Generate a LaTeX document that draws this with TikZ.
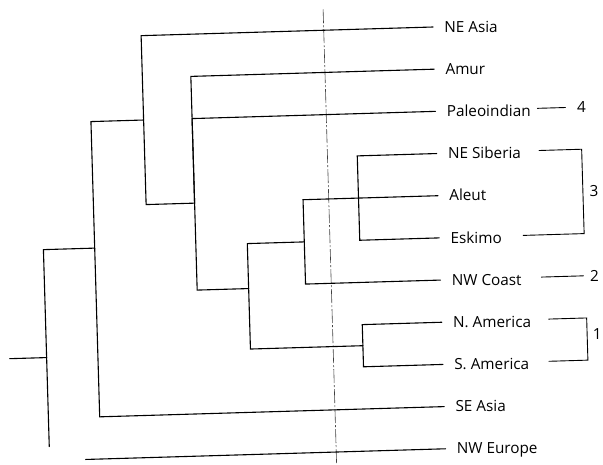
\documentclass[tikz,border=0pt]{standalone}
\usepackage{fontspec}
\setmainfont{Open Sans}
\begin{document}
\begin{tikzpicture}[x=1pt,y=-1pt,
  edge/.style={draw=black, line width=1.1pt, line cap=round},
  guide/.style={draw=black!75, line width=0.6pt, dash pattern=on 14pt off 2pt on 2pt off 2pt},
  leaf/.style={anchor=base west, inner sep=0pt, font=\fontsize{15.3}{18}\selectfont},
  grp/.style={anchor=base, inner sep=0pt, font=\fontsize{15.3}{18}\selectfont}]
\useasboundingbox (0,0) rectangle (603,465);
\fill[white] (0,0) rectangle (603,465);
\clip (0,0) rectangle (603,465);
\begin{scope}[rotate around={1.7:(301,232)}]
% leaf line ends
\coordinate (l0) at (439,31);
\coordinate (l1) at (439,73.2);
\coordinate (l2) at (439,115.4);
\coordinate (l3) at (439,157.6);
\coordinate (l4) at (439,199.8);
\coordinate (l5) at (439,242);
\coordinate (l6) at (439,284.2);
\coordinate (l7) at (439,326.4);
\coordinate (l8) at (439,368.6);
\coordinate (l9) at (439,410.8);
\coordinate (l10) at (439,453);
% labels
\node[leaf] (n0) at (450,36.5) {NE Asia};
\node[leaf] (n1) at (450,78.7) {Amur};
\node[leaf] (n2) at (450,120.9) {Paleoindian};
\node[leaf] (n3) at (450,163.1) {NE Siberia};
\node[leaf] (n4) at (450,205.3) {Aleut};
\node[leaf] (n5) at (450,247.5) {Eskimo};
\node[leaf] (n6) at (450,289.7) {NW Coast};
\node[leaf] (n7) at (450,331.9) {N. America};
\node[leaf] (n8) at (450,374.1) {S. America};
\node[leaf] (n9) at (450,416.3) {SE Asia};
\node[leaf] (n10) at (450,458.5) {NW Europe};
% internal nodes
\coordinate (root) at (6,350);
\coordinate (G) at (43,350);
\coordinate (Gb) at (43,439);
\coordinate (F) at (94.3,242);
\coordinate (A) at (147,115.4);
\coordinate (B) at (195.5,200);
\coordinate (C) at (247,287);
\coordinate (D) at (304,242);
\coordinate (D2) at (359.5,199.8);
\coordinate (E) at (359.5,347.5);
\coordinate (W) at (79,453);
% guide line
\draw[guide] (329.7,10) -- (329.7,490);
% tree
\draw[edge] (root) -- (G);
\draw[edge] (G) |- (F);
\draw[edge] (G) -- (Gb);
\draw[edge] (F) |- (A);
\draw[edge] (F) |- (l9);
\draw[edge] (A) |- (l0);
\draw[edge] (A) |- (B);
\draw[edge] (B) |- (l1);
\draw[edge] (B) |- (l2);
\draw[edge] (B) |- (C);
\draw[edge] (C) |- (D);
\draw[edge] (C) |- (E);
\draw[edge] (D) |- (l4);
\draw[edge] (D) |- (l6);
\draw[edge] (D2) |- (l3);
\draw[edge] (D2) |- (l5);
\draw[edge] (E) |- (l7);
\draw[edge] (E) |- (l8);
\draw[edge] (W) -- (l10);
% right-hand groups
\coordinate (p1) at (541,115.4);
\coordinate (p2) at (569,115.4);
\draw[edge, line width=0.9pt] (p1) -- (p2);
\node[grp] (g4) at (585,120.9) {4};
\coordinate (s1) at (541.5,157.6);
\coordinate (s2) at (584,157.6);
\coordinate (s3) at (584,242);
\coordinate (s4) at (523,242);
\draw[edge, line width=0.9pt] (s1) -- (s2) -- (s3) -- (s4);
\node[grp] (g3) at (595,205.3) {3};
\coordinate (c1) at (540,284.2);
\coordinate (c2) at (582,284.2);
\draw[edge, line width=0.9pt] (c1) -- (c2);
\node[grp] (g2) at (593,289.7) {2};
\coordinate (a1) at (546,326.4);
\coordinate (a2) at (584,326.4);
\coordinate (a3) at (584,368.6);
\coordinate (a4) at (545,368.6);
\draw[edge, line width=0.9pt] (a1) -- (a2) -- (a3) -- (a4);
\node[grp] (g1) at (594,348) {1};
\end{scope}
\end{tikzpicture}
\end{document}
